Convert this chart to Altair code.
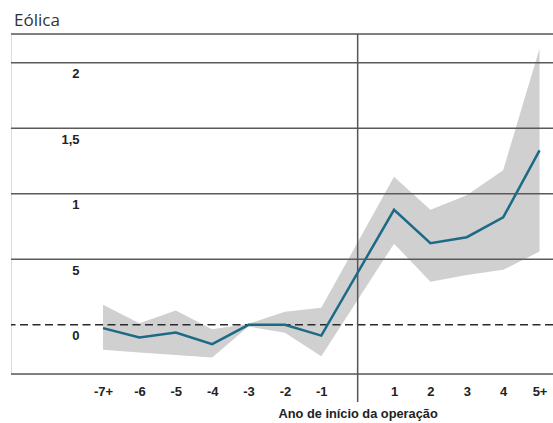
import altair as alt
import pandas as pd

# Years relative to the start of operation (0 = first year, marked by the vertical rule)
anos = [-7, -6, -5, -4, -3, -2, -1, 1, 2, 3, 4, 5]
# Estimated effect and its confidence band
efeito = [-0.025, -0.097, -0.059, -0.147, 0.0, 0.0, -0.082, 0.878, 0.624, 0.669, 0.82, 1.332]
limite_sup = [0.153, 0.013, 0.109, -0.033, 0.008, 0.10, 0.13, 1.13, 0.878, 0.99, 1.18, 2.11]
limite_inf = [-0.19, -0.21, -0.23, -0.25, -0.013, -0.06, -0.24, 0.62, 0.33, 0.38, 0.42, 0.56]

# Horizontal reference lines
grade = [0.5, 1.0, 1.5, 2.0]
y_min, y_max = -0.375, 2.22
x_min, x_max = -9.53, 5.37

y_ticks = [0, 0.5, 1, 1.5, 2]
y_labels = ["0", "5", "1", "1,5", "2"]

df = pd.DataFrame({"ano": anos, "efeito": efeito, "sup": limite_sup, "inf": limite_inf})
df_grade = pd.DataFrame({"v": grade + [y_min, y_max]})
df_zero = pd.DataFrame({"v": [0.0]})

FONT = "Liberation Sans"

x_scale = alt.Scale(domain=[x_min, x_max], nice=False, zero=False)
y_scale = alt.Scale(domain=[y_min, y_max], nice=False, zero=False)

label_expr_y = " : ".join(
    f"datum.value == {v} ? '{l}'" for v, l in zip(y_ticks[:-1], y_labels[:-1])
) + f" : '{y_labels[-1]}'"

x_axis = alt.Axis(
    values=anos,
    labelExpr="datum.value == -7 ? '-7+' : datum.value == 5 ? '5+' : '' + datum.value",
    ticks=False,
    tickSize=0,
    domain=False,
    grid=False,
    labelFont=FONT,
    labelFontWeight="bold",
    labelFontSize=13,
    labelColor="#222",
    labelBaseline="alphabetic",
    labelPadding=21,
    title="Ano de início da operação",
    titleFont=FONT,
    titleFontWeight="bold",
    titleFontSize=12.8,
    titleColor="#222",
    titleX=346.6,
    titleY=43,
    titleAlign="center",
    titleBaseline="alphabetic",
)

y_axis = alt.Axis(
    values=y_ticks,
    labelExpr=label_expr_y,
    ticks=False,
    tickSize=0,
    domain=False,
    grid=False,
    labelFont=FONT,
    labelFontWeight="bold",
    labelFontSize=13,
    labelColor="#222",
    labelAlign="right",
    labelBaseline="middle",
    labelPadding=-68,
    labelOffset=11,
    title=None,
)

base = alt.Chart(df)

banda = base.mark_area(color="#d0d0d0", opacity=1).encode(
    x=alt.X("ano:Q", scale=x_scale, axis=x_axis),
    y=alt.Y("sup:Q", scale=y_scale, axis=y_axis),
    y2="inf:Q",
)

linhas_grade = alt.Chart(df_grade).mark_rule(color="#5a5a5a", strokeWidth=1.5).encode(
    y=alt.Y("v:Q", scale=y_scale)
)

linha_zero = alt.Chart(df_zero).mark_rule(
    color="#2a2a2a", strokeWidth=1.5, strokeDash=[8, 4.5]
).encode(y=alt.Y("v:Q", scale=y_scale))

inicio = alt.Chart(df_zero).mark_rule(color="#555", strokeWidth=1.5).encode(
    x=alt.X("v:Q", scale=x_scale), y=alt.value(0), y2=alt.value(368)
)

linha = base.mark_line(color="#1d6a86", strokeWidth=2.5).encode(
    x=alt.X("ano:Q", scale=x_scale),
    y=alt.Y("efeito:Q", scale=y_scale),
)

chart = (
    alt.layer(banda, linhas_grade, linha_zero, inicio, linha)
    .properties(
        width=542,
        height=340,
        autosize=alt.AutoSizeParams(type="none"),
        padding={"left": 11, "top": 34, "right": 0, "bottom": 49},
        title=alt.TitleParams(
            "Eólica",
            anchor="start",
            frame="group",
            font="Open Sans",
            fontSize=17,
            fontWeight="normal",
            color="#333",
            baseline="alphabetic",
            offset=10,
            dx=3,
            dy=20,
        ),
    )
    .configure_view(stroke=None)
    .configure(background="white")
)

chart.save("out.html", embed_options={"renderer": "svg", "actions": False})
